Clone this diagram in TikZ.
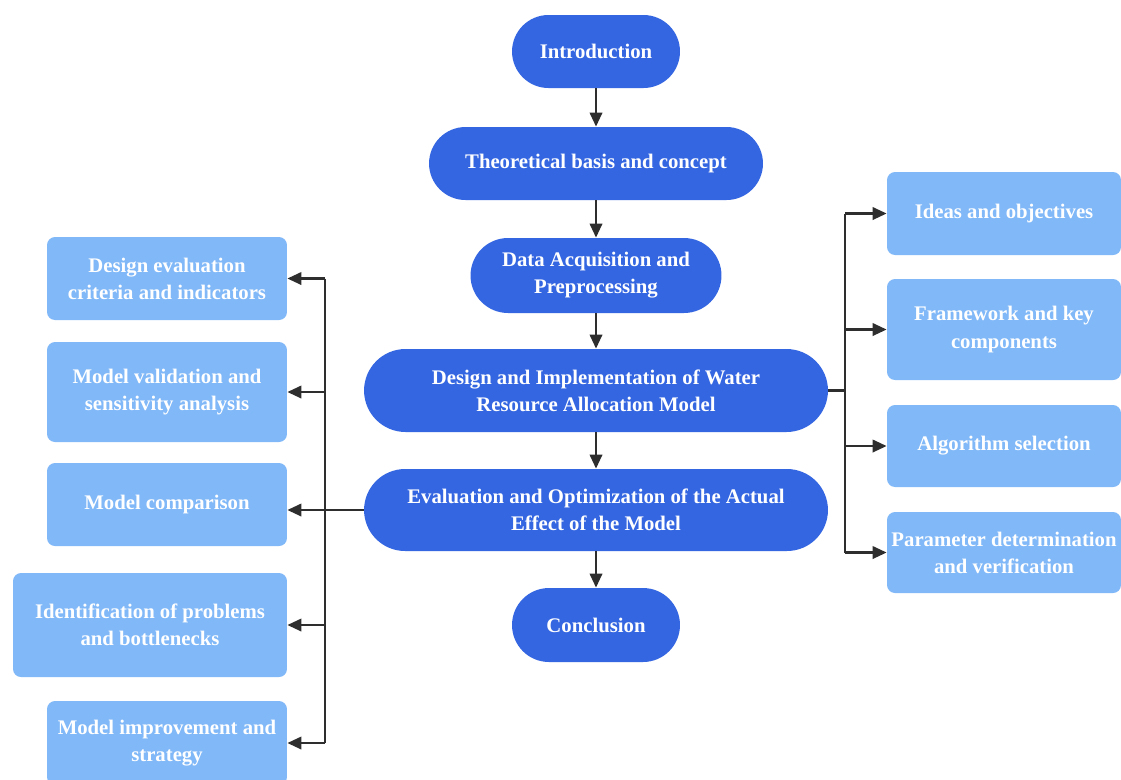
\documentclass[tikz,border=0pt]{standalone}
\usepackage{fontspec}
\setmainfont{Liberation Serif}
\usetikzlibrary{shapes.misc,arrows.meta}
\definecolor{mainblue}{HTML}{3466E2}
\definecolor{subblue}{HTML}{80B8F8}
\definecolor{linkgray}{HTML}{2E2E2E}
\tikzstyle{mainnode} = [rounded rectangle, fill=mainblue, text=white, align=center, inner sep=0pt, font=\bfseries\fontsize{11.8}{15.4}\selectfont]
\tikzstyle{subnode} = [rectangle, rounded corners=0.16cm, fill=subblue, text=white, align=center, inner sep=0pt, font=\bfseries\fontsize{11.8}{15.4}\selectfont]
\tikzstyle{link} = [line width=1.5pt, draw=linkgray, ->, >={Triangle[length=8pt,width=7pt]}]
\tikzstyle{trunk} = [line width=1.5pt, draw=linkgray]

\begin{document}
\begin{tikzpicture}[x=0.02cm,y=-0.02cm]
    \useasboundingbox (0,0) rectangle (1121,779);
    \fill [white] (0,0) rectangle (1121,779);

    % main column
    \node [mainnode, minimum width=3.36cm, minimum height=1.46cm] (intro) at (596,51.5) {Introduction};
    \node [mainnode, minimum width=6.68cm, minimum height=1.46cm] (theory) at (596,163.5) {Theoretical basis and concept};
    \node [mainnode, minimum width=5.02cm, minimum height=1.5cm] (data) at (596,275.5) {Data Acquisition and\\Preprocessing};
    \node [mainnode, minimum width=9.28cm, minimum height=1.66cm] (design) at (596,390.5) {Design and Implementation of Water\\Resource Allocation Model};
    \node [mainnode, minimum width=9.28cm, minimum height=1.64cm] (eval) at (596,510) {Evaluation and Optimization of the Actual\\Effect of the Model};
    \node [mainnode, minimum width=3.36cm, minimum height=1.48cm] (concl) at (596,625) {Conclusion};

    \draw [link] (intro.south) -- (theory.north);
    \draw [link] (theory.south) -- (data.north);
    \draw [link] (data.south) -- (design.north);
    \draw [link] (design.south) -- (eval.north);
    \draw [link] (eval.south) -- (concl.north);

    % right branch
    \node [subnode, minimum width=4.68cm, minimum height=1.66cm] (ideas) at (1004,213.5) {Ideas and objectives};
    \node [subnode, minimum width=4.68cm, minimum height=2.02cm] (frame) at (1004,329.5) {Framework and key\\components};
    \node [subnode, minimum width=4.68cm, minimum height=1.64cm] (algo) at (1004,446) {Algorithm selection};
    \node [subnode, minimum width=4.68cm, minimum height=1.62cm] (param) at (1004,552.5) {Parameter determination\\and verification};

    \coordinate (rj) at (845,390.5);
    \draw [trunk] (design.east) -- (rj);
    \draw [trunk] (rj |- ideas.west) -- (rj |- param.west);
    \draw [link] (rj |- ideas.west) -- (ideas.west);
    \draw [link] (rj |- frame.west) -- (frame.west);
    \draw [link] (rj |- algo.west) -- (algo.west);
    \draw [link] (rj |- param.west) -- (param.west);

    % left branch
    \node [subnode, minimum width=4.8cm, minimum height=1.66cm] (criteria) at (167,278.5) {Design evaluation\\criteria and indicators};
    \node [subnode, minimum width=4.8cm, minimum height=2cm] (valid) at (167,392) {Model validation and\\sensitivity analysis};
    \node [subnode, minimum width=4.8cm, minimum height=1.66cm] (compare) at (167,504.5) {Model comparison};
    \node [subnode, minimum width=5.48cm, minimum height=2.08cm] (problem) at (150,625) {Identification of problems\\and bottlenecks};
    \node [subnode, minimum width=4.8cm, minimum height=1.68cm] (improve) at (167,743) {Model improvement and\\strategy};

    \coordinate (lj) at (325,510);
    \draw [trunk] (eval.west) -- (lj);
    \draw [trunk] (lj |- criteria.east) -- (lj |- improve.east);
    \draw [link] (lj |- criteria.east) -- (criteria.east);
    \draw [link] (lj |- valid.east) -- (valid.east);
    \draw [link] (lj) -- (lj -| compare.east);
    \draw [link] (lj |- problem.east) -- (problem.east);
    \draw [link] (lj |- improve.east) -- (improve.east);
\end{tikzpicture}
\end{document}
